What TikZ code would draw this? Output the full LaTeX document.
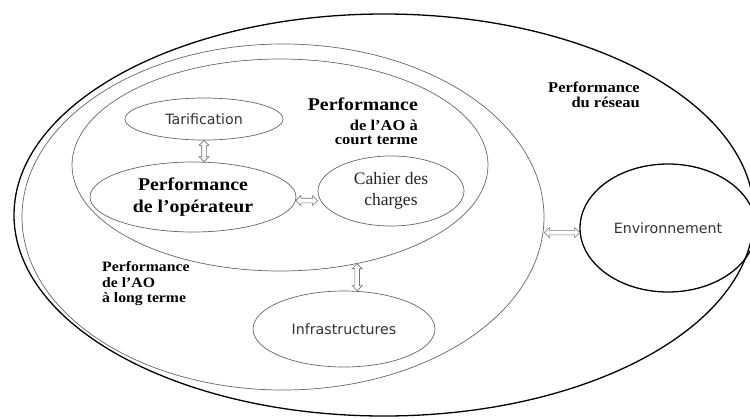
\documentclass[tikz,border=0pt]{standalone}
\usepackage{fontspec}
\setmainfont{Liberation Serif}
\newfontfamily\sansf{DejaVu Sans}
\newfontfamily\bserif[FakeStretch=1.1]{Liberation Serif}
\usetikzlibrary{calc,shapes.geometric}
\tikzset{
  ring/.style={ellipse, draw=black!60, line width=0.7pt, inner sep=0pt},
  boldring/.style={ellipse, draw=black, line width=1.3pt, inner sep=0pt},
  sanslbl/.style={font=\sansf\fontsize{14.2}{16}\selectfont, text=black!80},
  boldbig/.style={font=\bserif\bfseries\fontsize{18}{22}\selectfont, inner sep=0pt},
  boldmid/.style={font=\bserif\bfseries\fontsize{15}{15}\selectfont, inner sep=0pt},
  boldsmall/.style={font=\bserif\bfseries\fontsize{14.3}{14}\selectfont, inner sep=0pt},
  dblarrow/.style={draw=black!55, line width=0.6pt, fill=white, line join=miter,
    to path={let \p1=(\tikztostart), \p2=(\tikztotarget),
      \n1={atan2(\y2-\y1,\x2-\x1)}, \n2={veclen(\x2-\x1,\y2-\y1)} in
      {[shift={(\p1)}, rotate=\n1] (0pt,0pt) -- (5pt,5pt) -- (5pt,2.3pt)
        -- ({\n2*1pt-5pt},2.3pt) -- ({\n2*1pt-5pt},5pt) -- ({\n2*1pt},0pt)
        -- ({\n2*1pt-5pt},-5pt) -- ({\n2*1pt-5pt},-2.3pt) -- (5pt,-2.3pt)
        -- (5pt,-5pt) -- cycle}}},
}
\begin{document}
\begin{tikzpicture}[x=1pt,y=-1pt]
\useasboundingbox (0,0) rectangle (750,418);
\fill[white] (0,0) rectangle (750,418);
% containers
\node[boldring, minimum width=740, minimum height=402] (reseau) at (384,215) {};
\node[ring, minimum width=522, minimum height=346] (long) at (283,217) {};
\node[ring, minimum width=416, minimum height=212] (short) at (280,165) {};
% inner nodes
\node[ring, minimum width=158, minimum height=42, sanslbl] (tarif) at (204,119) {Tarification};
\node[ring, minimum width=206, minimum height=70, align=center, boldbig] (oper) at (193,197) {Performance\\de l’opérateur};
\node[ring, minimum width=146, minimum height=70, align=center, font=\fontsize{17.5}{21}\selectfont, text=black!85] (cahier) at (391,191) {Cahier des\\charges};
\node[ring, minimum width=182, minimum height=76, sanslbl] (infra) at (344,329) {Infrastructures};
\node[boldring, minimum width=176, minimum height=128, sanslbl] (env) at (668,228) {Environnement};
% labels
\node[boldbig, anchor=base east] (st1) at (418,110) {Performance};
\node[boldmid, anchor=base east] (st2) at (418,130) {de l’AO à};
\node[boldmid, anchor=base east] (st3) at (418,144) {court terme};
\node[boldmid, anchor=base east] (nw1) at (640,92) {Performance};
\node[boldmid, anchor=base east] (nw2) at (640,107) {du réseau};
\node[boldsmall, anchor=base west] (lt1) at (102,271) {Performance};
\node[boldsmall, anchor=base west] (lt2) at (102,287) {de l’AO};
\node[boldsmall, anchor=base west] (lt3) at (102,302) {à long terme};
% arrows
\draw[dblarrow] (tarif.south) to (tarif.south |- oper.north);
\draw[dblarrow] (oper.-2) to (oper.-2 -| cahier.west);
\draw[dblarrow] (short.-52.5) to (short.-52.5 |- infra.north);
\draw[dblarrow] (long.east |- env.183) to (env.183);
\end{tikzpicture}
\end{document}
